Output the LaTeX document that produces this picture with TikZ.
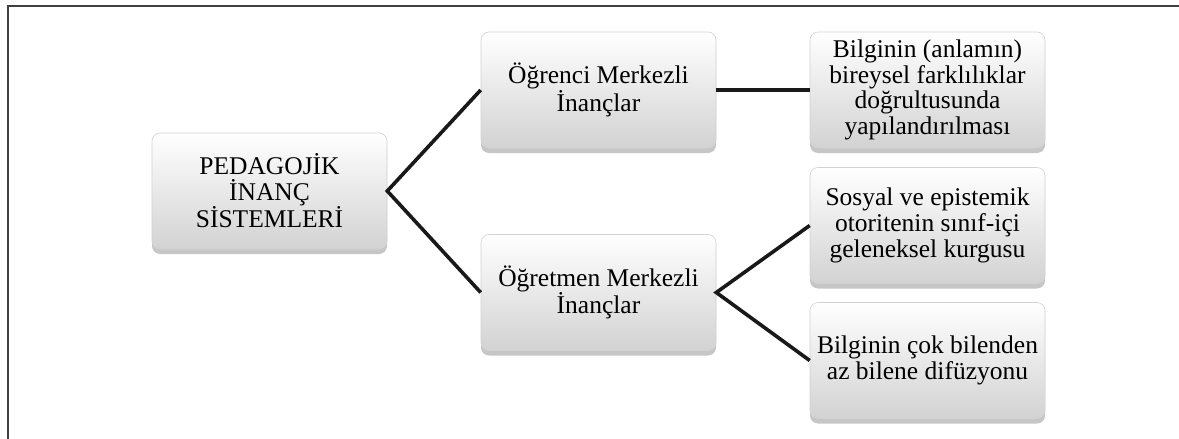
\documentclass[tikz,border=0pt]{standalone}
\usepackage{fontspec}
\setmainfont{Liberation Serif}
\usepackage{xcolor}
\usetikzlibrary{shadows}

\tikzset{
    beliefbox/.style={rounded corners=8pt, top color=white, bottom color=gray!35, draw=gray!35, line width=0.6pt,
        drop shadow={shadow xshift=0pt, shadow yshift=-5pt, opacity=0.45, fill=gray},
        minimum width=235pt, minimum height=116pt, align=center, inner sep=2pt,
        font=\fontsize{25.5}{25.7}\selectfont},
    branch/.style={line width=3.6pt, black!90}
}

\begin{document}
\begin{tikzpicture}[x=1pt, y=-1pt]
            \useasboundingbox (0,0) rectangle (1179,439);
            \draw[line width=1.6pt, black!75] (8,439) -- (8,6) -- (1179,6);

            \node[beliefbox] (root) at (269.5,191) {PEDAGOJİK\\ İNANÇ\\ SİSTEMLERİ};

            \node[beliefbox] (ogrenci) at (598.5,90) {Öğrenci Merkezli\\ İnançlar};
            \node[beliefbox] (ogretmen) at (598.5,292.5) {Öğretmen Merkezli\\ İnançlar};

            \node[beliefbox] (anlam) at (927.5,90) {Bilginin (anlamın)\\ bireysel farklılıklar\\ doğrultusunda\\ yapılandırılması};
            \node[beliefbox] (otorite) at (927.5,225.5) {Sosyal ve epistemik\\ otoritenin sınıf-içi\\ geleneksel kurgusu};
            \node[beliefbox] (difuzyon) at (927.5,360.5) {Bilginin çok bilenden\\ az bilene difüzyonu};

            \draw[branch] (ogrenci.west) -- (root.east) -- (ogretmen.west);
            \draw[branch] (ogrenci.east) -- (anlam.west);
            \draw[branch] (otorite.west) -- (ogretmen.east) -- (difuzyon.west);
        \end{tikzpicture}
\end{document}
